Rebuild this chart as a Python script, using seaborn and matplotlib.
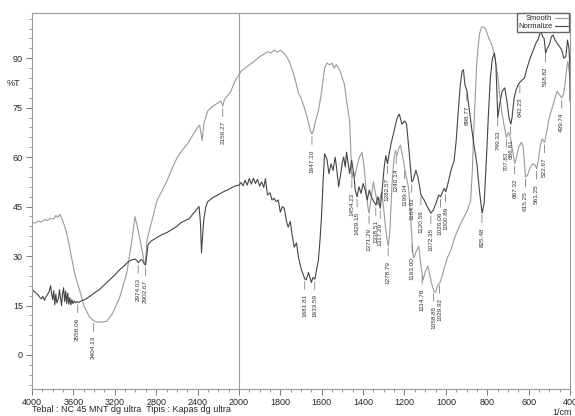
import numpy as np
import pandas as pd
import seaborn as sns
import matplotlib.pyplot as plt
from matplotlib.ticker import FixedLocator

sns.set_style("ticks")
plt.rcParams['font.family'] = ['Liberation Sans', 'DejaVu Sans']

# "Smooth" spectrum (light trace): wavenumber (1/cm) and %T
smooth_wn = [4000, 3970, 3940, 3910, 3880, 3850, 3820, 3790, 3770, 3750, 3730, 3715, 3707,
             3690, 3668, 3639, 3590, 3541, 3493, 3444, 3404, 3376, 3330, 3278, 3220, 3151,
             3083, 3034, 3005, 2976, 2937, 2917, 2905, 2888, 2839, 2790, 2740, 2693, 2640,
             2595, 2550, 2498, 2450, 2400, 2380, 2365, 2355, 2340, 2302, 2250, 2200, 2175,
             2156, 2140, 2100, 2078, 2040, 2000, 1990, 1960, 1927, 1900, 1880, 1860, 1845,
             1830, 1815, 1800, 1781, 1770, 1757, 1740, 1730, 1713, 1700, 1684, 1670, 1655,
             1647, 1640, 1630, 1616, 1600, 1586, 1575, 1562, 1550, 1540, 1530, 1518, 1505,
             1490, 1480, 1465, 1458, 1454, 1448, 1440, 1430, 1418, 1405, 1395, 1385, 1375,
             1371, 1362, 1350, 1340, 1330, 1320, 1310, 1300, 1290, 1283, 1278, 1270, 1260,
             1250, 1244, 1236, 1228, 1220, 1208, 1196, 1180, 1170, 1160, 1155, 1143, 1131,
             1120, 1110, 1098, 1087, 1070, 1058, 1050, 1040, 1029, 1020, 1005, 993, 975,
             955, 935, 915, 895, 880, 872, 866, 858, 852, 845, 837, 827, 815, 805, 795,
             785, 774, 760, 750, 740, 730, 720, 707, 698, 690, 680, 667, 658, 648, 635,
             626, 620, 615, 605, 595, 580, 568, 561, 553, 545, 535, 522, 512, 500, 486,
             472, 462, 452, 440, 432, 425, 416, 410, 404, 400]
smooth_t = [40.2, 40.0, 40.6, 40.3, 41.0, 40.8, 41.5, 41.2, 42.3, 41.8, 42.6, 41.5, 41.0,
            39.5, 37.3, 33.0, 25.0, 19.7, 14.5, 11.5, 10.4, 10.0, 10.0, 10.2, 12.7, 17.6,
            25.0, 35.0, 42.0, 38.0, 32.0, 28.2, 27.6, 35.0, 41.0, 47.0, 50.0, 53.0, 57.0,
            60.0, 62.0, 64.0, 66.5, 69.0, 69.7, 67.0, 65.0, 70.0, 74.0, 75.5, 76.5, 77.0,
            75.5, 77.5, 79.0, 80.0, 83.0, 85.0, 86.0, 87.5, 89.0, 90.5, 91.2, 92.0, 91.6,
            92.5, 91.8, 92.4, 91.5, 90.5, 89.0, 86.0, 84.0, 79.5, 78.0, 75.0, 72.0, 68.0,
            67.0, 68.0, 71.0, 74.0, 80.0, 87.0, 88.5, 88.0, 88.5, 87.0, 88.0, 87.0, 85.0,
            82.0, 77.0, 71.0, 60.0, 53.5, 55.5, 54.0, 57.0, 60.0, 61.5, 57.0, 50.0, 44.0,
            43.0, 47.0, 52.5, 49.0, 45.5, 47.0, 49.5, 44.0, 38.0, 34.5, 33.0, 38.0, 52.0,
            60.0, 62.0, 60.5, 62.5, 63.6, 60.0, 55.5, 50.6, 42.0, 31.0, 29.4, 31.5, 33.0,
            27.0, 22.7, 25.5, 27.0, 22.0, 19.3, 19.0, 21.0, 22.0, 23.5, 27.0, 29.4, 32.0,
            36.0, 39.0, 41.5, 44.0, 47.0, 56.0, 67.0, 78.0, 87.0, 93.0, 97.5, 99.4, 99.4,
            98.5, 96.5, 95.0, 93.4, 89.0, 85.0, 79.0, 74.0, 70.0, 66.0, 67.5, 66.5, 63.0,
            58.0, 60.0, 63.0, 64.5, 63.0, 58.0, 54.0, 54.5, 56.5, 58.0, 57.5, 56.5, 59.0,
            63.0, 65.5, 64.5, 68.0, 72.0, 75.0, 78.0, 80.0, 79.0, 78.0, 79.0, 81.5, 87.0,
            89.0, 86.0, 84.0]

# "Normalize" spectrum (dark trace)
norm_wn = [4000, 3985, 3970, 3955, 3940, 3925, 3910, 3895, 3880, 3865, 3850, 3835, 3820,
           3810, 3800, 3790, 3780, 3770, 3760, 3745, 3735, 3725, 3715, 3705, 3695, 3685,
           3675, 3665, 3655, 3645, 3635, 3625, 3615, 3605, 3595, 3580, 3565, 3550, 3530,
           3510, 3490, 3470, 3440, 3415, 3380, 3346, 3300, 3249, 3200, 3151, 3110, 3073,
           3040, 3005, 2985, 2974, 2960, 2945, 2930, 2915, 2902, 2890, 2878, 2850, 2800,
           2750, 2693, 2640, 2600, 2566, 2520, 2480, 2440, 2420, 2400, 2385, 2372, 2362,
           2352, 2340, 2320, 2302, 2250, 2205, 2150, 2100, 2078, 2040, 2000, 1990, 1980,
           1970, 1960, 1950, 1940, 1930, 1920, 1910, 1900, 1890, 1880, 1872, 1862, 1850,
           1840, 1830, 1820, 1810, 1800, 1790, 1781, 1770, 1762, 1752, 1742, 1733, 1722,
           1712, 1698, 1690, 1681, 1675, 1664, 1655, 1650, 1642, 1633, 1628, 1616, 1608,
           1601, 1593, 1586, 1575, 1565, 1555, 1545, 1535, 1528, 1518, 1508, 1500, 1494,
           1486, 1480, 1472, 1465, 1455, 1445, 1438, 1429, 1420, 1410, 1400, 1390, 1380,
           1370, 1360, 1348, 1338, 1328, 1317, 1308, 1298, 1290, 1282, 1274, 1265, 1250,
           1235, 1225, 1212, 1199, 1190, 1178, 1165, 1158, 1145, 1135, 1120, 1105, 1090,
           1072, 1060, 1045, 1035, 1026, 1015, 1008, 1000, 990, 975, 960, 950, 940, 930,
           922, 915, 908, 898, 890, 878, 865, 850, 838, 825, 815, 805, 795, 785, 775,
           765, 758, 749, 740, 728, 715, 705, 695, 686, 680, 670, 660, 650, 642, 630,
           620, 610, 596, 580, 565, 552, 546, 540, 532, 525, 518, 510, 500, 490, 482,
           472, 462, 450, 440, 430, 420, 412, 405, 401, 400]
norm_t = [19.8, 19.4, 19.0, 18.6, 18.2, 17.5, 17.0, 17.8, 16.6, 17.6, 18.4, 19.2, 21.0,
          18.5, 16.8, 19.5, 15.2, 18.4, 15.8, 17.0, 19.8, 17.3, 15.0, 18.6, 20.4, 16.2,
          19.4, 15.6, 18.8, 15.4, 17.4, 15.2, 16.8, 15.6, 16.4, 15.8, 16.2, 15.9, 16.3,
          16.6, 16.8, 17.2, 17.8, 18.4, 19.2, 19.9, 21.3, 22.8, 24.3, 25.9, 27.0, 28.2,
          28.8, 29.1, 28.6, 28.0, 28.5, 29.0, 28.6, 27.6, 27.3, 30.5, 33.5, 34.5, 35.5,
          36.4, 37.2, 38.2, 39.0, 40.0, 40.8, 41.3, 43.0, 43.6, 44.5, 45.0, 40.0, 31.0,
          36.0, 41.0, 45.0, 46.5, 47.8, 48.5, 49.5, 50.2, 50.6, 51.2, 51.5, 52.3, 51.3,
          53.0, 51.5, 53.5, 51.8, 53.6, 52.0, 53.3, 51.2, 52.5, 50.8, 53.5, 48.5, 49.2,
          47.0, 47.5, 46.5, 47.0, 43.3, 45.0, 44.5, 40.5, 38.8, 40.5, 36.0, 32.7, 34.0,
          29.5, 25.8, 24.5, 23.0, 22.8, 25.0, 23.0, 22.0, 23.5, 23.0, 24.8, 28.8, 35.0,
          42.0, 53.0, 61.0, 59.5, 55.0, 58.0, 56.0, 60.0, 56.7, 51.0, 55.0, 58.5, 60.0,
          57.0, 61.5, 58.0, 55.0, 59.0, 55.0, 50.0, 48.0, 51.0, 49.0, 52.0, 50.0, 47.0,
          50.0, 48.0, 46.5, 45.5, 48.0, 44.5, 50.0, 57.0, 60.5, 58.0, 61.0, 64.0, 68.0,
          72.0, 73.0, 70.0, 71.0, 70.0, 62.0, 52.5, 53.0, 56.0, 54.0, 48.5, 47.0, 45.0,
          43.0, 44.0, 46.5, 48.5, 48.0, 49.5, 50.5, 49.5, 52.0, 56.0, 59.0, 65.0, 74.0,
          82.0, 86.0, 86.5, 82.0, 80.0, 76.0, 70.0, 64.0, 58.0, 50.0, 43.0, 46.0, 58.0,
          72.0, 84.0, 90.0, 91.5, 88.0, 72.0, 76.0, 80.0, 81.0, 77.0, 72.0, 70.0, 72.0,
          78.0, 80.5, 82.0, 82.7, 83.5, 84.0, 86.5, 89.4, 92.0, 94.5, 96.0, 97.5, 98.0,
          96.5, 96.0, 91.5, 93.0, 94.0, 96.5, 97.0, 95.5, 94.5, 93.5, 92.5, 90.0, 90.5,
          95.5, 93.0, 88.0, 77.0]

# peak labels: (text, wavenumber, trace)
peak_text = ["3558.06", "3404.13", "2974.03", "2902.67", "2156.27", "1681.81", "1647.10",
             "1633.59", "1454.23", "1429.15", "1371.29", "1338.51", "1317.29", "1282.57",
             "1278.79", "1240.14", "1199.04", "1164.92", "1163.00", "1120.56", "1114.78",
             "1072.35", "1058.85", "1029.92", "1026.06", "1000.89", "898.77", "825.48",
             "749.33", "707.83", "686.61", "667.32", "642.23", "615.25", "561.25",
             "522.67", "518.82", "439.74"]
peak_trace = ["Normalize", "Smooth", "Normalize", "Normalize", "Smooth", "Normalize",
              "Smooth", "Normalize", "Smooth", "Normalize", "Smooth", "Normalize",
              "Normalize", "Normalize", "Smooth", "Smooth", "Smooth", "Normalize",
              "Smooth", "Normalize", "Smooth", "Normalize", "Smooth", "Smooth",
              "Normalize", "Normalize", "Normalize", "Normalize", "Normalize", "Smooth",
              "Normalize", "Smooth", "Normalize", "Smooth", "Smooth", "Smooth",
              "Normalize", "Smooth"]

df = pd.concat([
    pd.DataFrame({"wn": smooth_wn, "T": smooth_t, "trace": "Smooth"}),
    pd.DataFrame({"wn": norm_wn, "T": norm_t, "trace": "Normalize"}),
])
colors = {"Smooth": "#9a9a9a", "Normalize": "#454545"}


# Shimadzu style axis: 2x expanded below 2000 1/cm
def fwd(x):
    x = np.asarray(x, dtype=float)
    return np.where(x <= 2000, 2 * x, x + 2000)


def inv(u):
    u = np.asarray(u, dtype=float)
    return np.where(u <= 4000, u / 2, u - 2000)


fig = plt.figure(figsize=(5.75, 4.16), dpi=100)
ax = fig.add_axes([0.0557, 0.065, 0.9356, 0.9045])
ax.set_xscale('function', functions=(fwd, inv))

sns.lineplot(data=df, x="wn", y="T", hue="trace", palette=colors, estimator=None,
             sort=False, lw=0.8, ax=ax)
ax.axvline(2000, color="0.62", lw=0.8, zorder=0)

ax.set_xlim(4000, 400)
ax.set_ylim(-10.3, 103.8)

ax.xaxis.set_major_locator(FixedLocator([4000, 3600, 3200, 2800, 2400, 2000, 1800, 1600,
                                         1400, 1200, 1000, 800, 600, 400]))
ax.xaxis.set_minor_locator(FixedLocator(list(range(2100, 4000, 100)) + list(range(450, 2000, 50))))
ax.xaxis.set_major_formatter(plt.FuncFormatter(lambda v, p: f"{v:.0f}"))
ax.set_yticks(range(0, 91, 15))
ax.set_yticks(range(-9, 103, 3), minor=True)

ax.tick_params(axis="both", which="major", labelsize=6.5, length=4, width=0.6,
               color="0.4", pad=2.5)
ax.tick_params(axis="both", which="minor", length=2.5, width=0.5, color="0.45")
for s in ax.spines.values():
    s.set_color("0.6")
    s.set_linewidth(0.8)
ax.set_xlabel("")
ax.set_ylabel("")

ax.text(-0.022, 82.4, "%T", transform=ax.get_yaxis_transform(), ha="right",
        va="center", fontsize=6.5)

curves = {"Smooth": (smooth_wn[::-1], smooth_t[::-1]),
          "Normalize": (norm_wn[::-1], norm_t[::-1])}
for txt, tr in zip(peak_text, peak_trace):
    wn = float(txt)
    yv = np.interp(wn, *curves[tr])
    ax.annotate(txt, xy=(wn, yv), xytext=(0, -11), textcoords="offset points",
                rotation=90, ha="center", va="top", fontsize=4.6, color="#333333",
                arrowprops=dict(arrowstyle="-", lw=0.5, color="0.4",
                                shrinkA=1, shrinkB=2))

ax.legend(handles=ax.get_legend_handles_labels()[0], labels=["Smooth", "Normalize"],
          loc="upper right", fontsize=5.5, markerfirst=False, frameon=True,
          fancybox=False, edgecolor="0.4", framealpha=1, borderpad=0.2,
          borderaxespad=0.1, handlelength=1.6, labelspacing=0.1, handletextpad=0.4)

fig.text(0.0557, 0.0145, "Tebal : NC 45 MNT dg ultra  Tipis : Kapas dg ultra",
         fontsize=6.5, ha="left", va="center")
fig.text(0.977, 0.008, "1/cm", fontsize=6.5, ha="center", va="center")

fig.savefig("out.png", dpi=100)
